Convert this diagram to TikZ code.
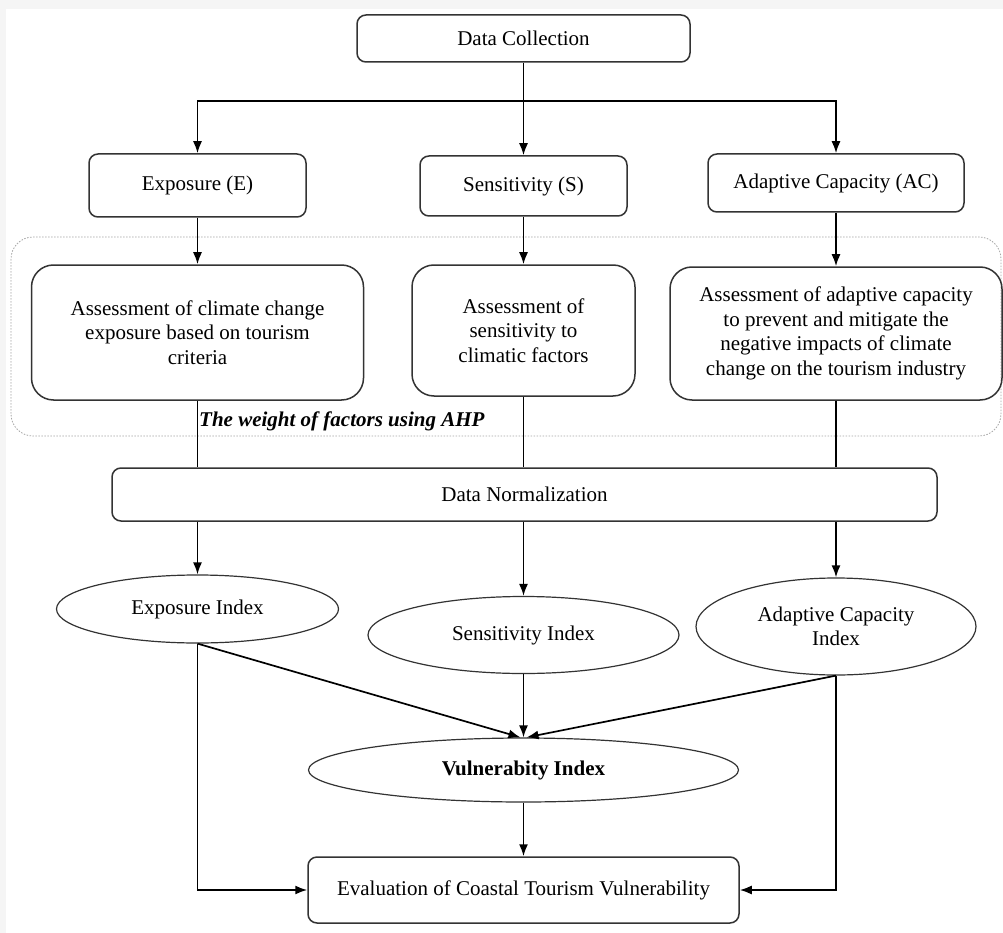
\documentclass[tikz,border=0pt]{standalone}
\usepackage{fontspec}
\setmainfont{Liberation Serif}
\usetikzlibrary{shapes.geometric,arrows.meta}

\begin{document}
\begin{tikzpicture}[x=1pt,y=-1pt,
    font=\fontsize{21}{24.5}\selectfont,
    >={Latex[length=12pt,width=9pt]},
    box/.style={draw=black!80,line width=1.5pt,rounded corners=9pt,align=center,inner sep=0pt},
    bigbox/.style={box,rounded corners=22pt},
    oval/.style={draw=black!80,line width=1.2pt,ellipse,align=center,inner sep=0pt},
    link/.style={line width=1.7pt}]
      \fill [gray!8] (0,0) rectangle (1003,933);
      \fill [white] (6,9) rectangle (1003,933);
      \useasboundingbox (0,0) rectangle (1003,933);
      \draw [gray!70, line width=0.8pt, dash pattern=on 1.5pt off 1.5pt, rounded corners=22pt] (11,237) rectangle (1001,436);

      \node [box, minimum width=333, minimum height=47] (dc) at (523.5,38.5) {Data Collection};
      \node [box, minimum width=217, minimum height=63] (expo) at (197.5,185.5) {Exposure (E)};
      \node [box, minimum width=207, minimum height=60] (sens) at (523.5,186) {Sensitivity (S)};
      \node [box, minimum width=256, minimum height=58] (adap) at (836,183) {Adaptive Capacity (AC)};

      \node [bigbox, minimum width=332, minimum height=135] (asexpo) at (197.5,332.5) {Assessment of climate change\\exposure based on tourism\\criteria};
      \node [bigbox, minimum width=223, minimum height=131] (assens) at (523.5,330.5) {Assessment of\\sensitivity to\\climatic factors};
      \node [bigbox, minimum width=332, minimum height=133] (asadap) at (836,333.5) {Assessment of adaptive capacity\\to prevent and mitigate the\\negative impacts of climate\\change on the tourism industry};
      \node [anchor=west, inner sep=0pt, font=\fontsize{21}{24.5}\selectfont\bfseries\itshape] (ahp) at (199,421) {The weight of factors using AHP};

      \node [box, minimum width=825, minimum height=53] (dn) at (524.5,494.5) {Data Normalization};

      \node [oval, minimum width=282, minimum height=68] (ei) at (197.5,609) {Exposure Index};
      \node [oval, minimum width=311, minimum height=77] (si) at (523.5,635) {Sensitivity Index};
      \node [oval, minimum width=280, minimum height=97] (aci) at (836,626.5) {Adaptive Capacity\\Index};
      \node [oval, minimum width=430, minimum height=64, font=\fontsize{21}{24.5}\selectfont\bfseries] (vi) at (523.5,770) {Vulnerabity Index};
      \node [box, minimum width=431, minimum height=66] (ev) at (523.5,890) {Evaluation of Coastal Tourism Vulnerability};

      \coordinate (split) at (523.5,101);
      \draw [link] (dc.south) -- (split);
      \draw [link,->] (split) -| (expo.north);
      \draw [link,->] (split) -- (sens.north);
      \draw [link,->] (split) -| (adap.north);

      \draw [link,->] (expo.south) -- (asexpo.north);
      \draw [link,->] (sens.south) -- (assens.north);
      \draw [link,->] (adap.south) -- (asadap.north);

      \draw [link] (asexpo.south) -- (asexpo.south |- dn.north);
      \draw [link] (assens.south) -- (assens.south |- dn.north);
      \draw [link] (asadap.south) -- (asadap.south |- dn.north);

      \draw [link,->] (ei.north |- dn.south) -- (ei.north);
      \draw [link,->] (si.north |- dn.south) -- (si.north);
      \draw [link,->] (aci.north |- dn.south) -- (aci.north);

      \draw [link,->] (ei.south) -- ([xshift=-3pt]vi.north);
      \draw [link,->] (si.south) -- (vi.north);
      \draw [link,->] (aci.south) -- ([xshift=3pt]vi.north);
      \draw [link,->] (vi.south) -- (ev.north);

      \draw [link,->] (ei.south) |- (ev.west);
      \draw [link,->] (aci.south) |- (ev.east);
    \end{tikzpicture}
\end{document}
